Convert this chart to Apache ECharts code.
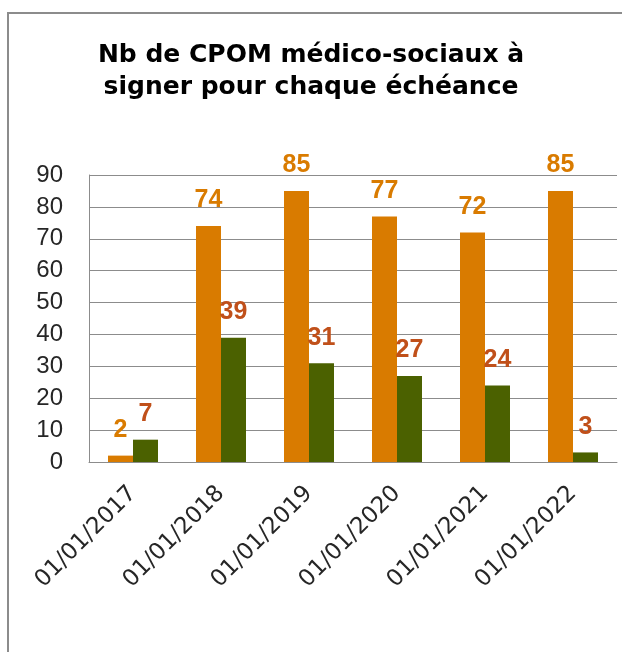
<!DOCTYPE html>
<html>
<head>
<meta charset="utf-8">
<script src="https://cdn.jsdelivr.net/npm/echarts@6/dist/echarts.min.js"></script>
<style>
  html, body { margin: 0; padding: 0; background: #fff; }
  #frame { position: absolute; left: 7px; top: 12px; width: 700px; height: 700px;
           border-left: 2px solid #8c8c8c; border-top: 2px solid #8c8c8c; }
  #chart { position: absolute; left: 0; top: 0; width: 622px; height: 652px; }
</style>
</head>
<body>
<div id="frame"></div>
<div id="chart"></div>
<script>
// échéances
const categories = ["01/01/2017", "01/01/2018", "01/01/2019", "01/01/2020", "01/01/2021", "01/01/2022"];
// deux séries (orange / vert)
const orangeValues = [2, 74, 85, 77, 72, 85];
const greenValues = [7, 39, 31, 27, 24, 3];
const yTicks = [0, 10, 20, 30, 40, 50, 60, 70, 80, 90];

const chartDom = document.getElementById("chart");
const myChart = echarts.init(chartDom);

const font = "'Liberation Sans', Arial, sans-serif";
const wideFont = "'DejaVu Sans', sans-serif";

const option = {
  animation: false,
  backgroundColor: "transparent",
  title: {
    text: "Nb de CPOM médico-sociaux à\nsigner pour chaque échéance",
    left: "center",
    top: 39,
    padding: [0, 0, 0, 12],
    textStyle: {
      fontFamily: wideFont,
      fontSize: 25,
      fontWeight: "bold",
      lineHeight: 32,
      color: "#000",
    },
  },
  grid: {
    left: 89,
    right: 5,
    top: 175,
    height: 287,
    containLabel: false,
  },
  xAxis: {
    type: "category",
    data: categories,
    axisLine: { lineStyle: { color: "#8c8c8c", width: 1 } },
    axisTick: { show: false },
    axisLabel: {
      rotate: 45,
      interval: 0,
      margin: 28,
      fontFamily: wideFont,
      fontSize: 23,
      color: "#262626",
    },
  },
  yAxis: {
    type: "value",
    min: yTicks[0],
    max: yTicks[yTicks.length - 1],
    interval: 10,
    axisLine: { show: true, lineStyle: { color: "#8c8c8c", width: 1 } },
    axisTick: { show: false },
    splitLine: { lineStyle: { color: "#8c8c8c", width: 1 } },
    axisLabel: {
      margin: 26,
      fontFamily: font,
      fontSize: 24,
      color: "#262626",
    },
  },
  series: [
    {
      type: "bar",
      data: orangeValues,
      barWidth: 25,
      barGap: "0%",
      itemStyle: { color: "#d97b00" },
      label: {
        show: true,
        position: "top",
        distance: 13,
        fontFamily: font,
        fontSize: 25,
        fontWeight: "bold",
        color: "#d97b00",
      },
    },
    {
      type: "bar",
      data: greenValues,
      barWidth: 25,
      barGap: "0%",
      itemStyle: { color: "#4b6100" },
      label: {
        show: true,
        position: "top",
        distance: 13,
        fontFamily: font,
        fontSize: 25,
        fontWeight: "bold",
        color: "#c0501a",
      },
    },
  ],
};
option && myChart.setOption(option);
</script>
</body>
</html>
